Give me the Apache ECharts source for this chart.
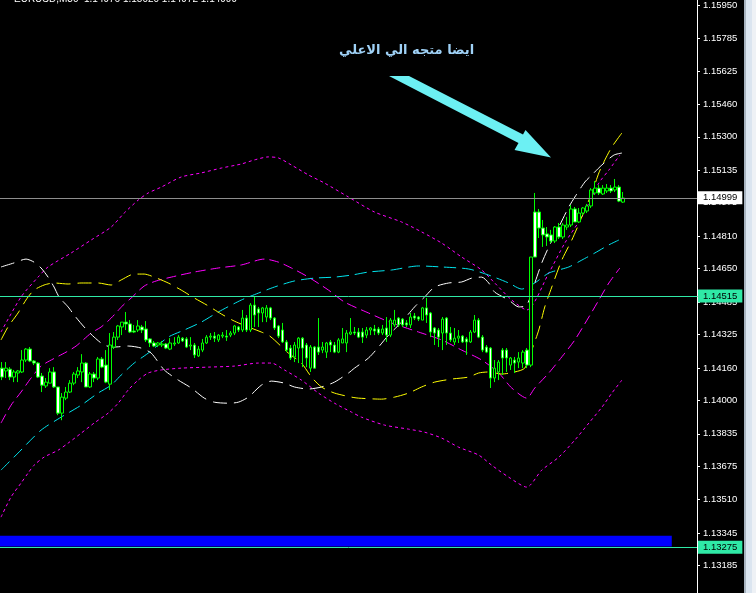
<!DOCTYPE html>
<html><head><meta charset="utf-8">
<script src="https://cdn.jsdelivr.net/npm/echarts@6/dist/echarts.min.js"></script>
<style>html,body{margin:0;padding:0;background:#000;overflow:hidden}#c{width:756px;height:593px}</style>
</head><body><div id="c"></div>
<script>
// ---------- data ----------
const symbolTitle = 'EURUSD,M30  1.14976 1.15020 1.14972 1.14999';
const noteText = 'ايضا متجه الي الاعلي';
const tickLabels = ['1.15950','1.15785','1.15625','1.15460','1.15300','1.15135','1.14975','1.14810','1.14650',
  '1.14485','1.14325','1.14160','1.14000','1.13835','1.13675','1.13510','1.13345','1.13185'];
const slotCount = 174; // bar slots incl. right shift space
const priceMin = 1.130497, priceMax = 1.15975;

const open = [
1.14159,1.14145,1.14154,1.14115,1.14135,1.14140,1.14199,1.14253,1.14194,1.14184,
1.14120,1.14071,1.14085,1.14140,1.14066,1.13937,1.14011,1.14041,1.14085,1.14125,
1.14140,1.14184,1.14066,1.14130,1.14110,1.14204,1.14174,1.14080,1.14263,1.14312,
1.14362,1.14386,1.14377,1.14342,1.14347,1.14362,1.14352,1.14303,1.14283,1.14273,
1.14273,1.14278,1.14253,1.14278,1.14283,1.14307,1.14303,1.14268,1.14273,1.14219,
1.14248,1.14283,1.14312,1.14317,1.14298,1.14317,1.14317,1.14322,1.14332,1.14362,
1.14347,1.14406,1.14347,1.14470,1.14451,1.14431,1.14411,1.14456,1.14406,1.14367,
1.14347,1.14288,1.14258,1.14214,1.14258,1.14307,1.14273,1.14159,1.14263,1.14263,
1.14248,1.14238,1.14288,1.14273,1.14238,1.14283,1.14283,1.14327,1.14337,1.14337,
1.14337,1.14322,1.14347,1.14352,1.14352,1.14332,1.14357,1.14322,1.14372,1.14406,
1.14401,1.14382,1.14372,1.14416,1.14411,1.14396,1.14456,1.14431,1.14357,1.14347,
1.14332,1.14406,1.14332,1.14288,1.14307,1.14317,1.14303,1.14288,1.14337,1.14396,
1.14312,1.14263,1.14258,1.14110,1.14140,1.14248,1.14248,1.14174,1.14199,1.14189,
1.14184,1.14248,1.14174,1.14929,1.14929,1.14850,1.14821,1.14816,1.14786,1.14855,
1.14806,1.14855,1.14865,1.14944,1.14880,1.14924,1.14934,1.14959,1.15023,1.15047,
1.15018,1.15033,1.15047,1.15038,1.15052,1.14978];
const close = [
1.14115,1.14159,1.14115,1.14140,1.14145,1.14199,1.14253,1.14194,1.14184,1.14115,
1.14075,1.14090,1.14140,1.14066,1.13937,1.14016,1.14041,1.14085,1.14130,1.14145,
1.14184,1.14066,1.14130,1.14110,1.14204,1.14164,1.14090,1.14273,1.14312,1.14367,
1.14386,1.14377,1.14337,1.14337,1.14367,1.14347,1.14298,1.14283,1.14268,1.14283,
1.14278,1.14258,1.14283,1.14283,1.14312,1.14293,1.14263,1.14273,1.14224,1.14253,
1.14283,1.14312,1.14317,1.14307,1.14322,1.14322,1.14312,1.14332,1.14367,1.14347,
1.14406,1.14347,1.14470,1.14421,1.14431,1.14456,1.14456,1.14406,1.14357,1.14317,
1.14288,1.14248,1.14209,1.14273,1.14307,1.14258,1.14209,1.14263,1.14159,1.14238,
1.14263,1.14283,1.14273,1.14238,1.14298,1.14303,1.14332,1.14337,1.14332,1.14312,
1.14312,1.14347,1.14357,1.14342,1.14332,1.14352,1.14322,1.14396,1.14396,1.14372,
1.14372,1.14372,1.14411,1.14406,1.14401,1.14456,1.14421,1.14337,1.14332,1.14312,
1.14401,1.14332,1.14298,1.14307,1.14317,1.14288,1.14288,1.14337,1.14396,1.14312,
1.14248,1.14238,1.14110,1.14159,1.14189,1.14209,1.14209,1.14209,1.14184,1.14209,
1.14238,1.14174,1.14707,1.14707,1.14850,1.14816,1.14806,1.14786,1.14855,1.14806,
1.14865,1.14865,1.14944,1.14880,1.14924,1.14949,1.14959,1.15038,1.15047,1.15023,
1.15047,1.15047,1.15033,1.15052,1.14983,1.14998];
const low = [
1.14100,1.14110,1.14100,1.14090,1.14090,1.14135,1.14189,1.14189,1.14174,1.14110,
1.14041,1.14061,1.14085,1.14061,1.13927,1.13902,1.14001,1.14036,1.14075,1.14110,
1.14090,1.14066,1.14061,1.14090,1.14100,1.14159,1.14085,1.14051,1.14253,1.14298,
1.14322,1.14347,1.14332,1.14332,1.14337,1.14332,1.14288,1.14263,1.14263,1.14263,
1.14263,1.14253,1.14248,1.14268,1.14278,1.14288,1.14258,1.14248,1.14209,1.14214,
1.14238,1.14278,1.14298,1.14288,1.14288,1.14307,1.14293,1.14312,1.14322,1.14337,
1.14337,1.14337,1.14337,1.14362,1.14362,1.14386,1.14386,1.14396,1.14347,1.14307,
1.14283,1.14238,1.14199,1.14189,1.14184,1.14164,1.14164,1.14140,1.14159,1.14224,
1.14233,1.14209,1.14238,1.14233,1.14233,1.14283,1.14238,1.14322,1.14322,1.14307,
1.14283,1.14307,1.14322,1.14322,1.14322,1.14322,1.14288,1.14312,1.14362,1.14362,
1.14362,1.14362,1.14357,1.14396,1.14391,1.14396,1.14382,1.14312,1.14273,1.14263,
1.14248,1.14273,1.14288,1.14273,1.14283,1.14283,1.14224,1.14283,1.14332,1.14307,
1.14238,1.14233,1.14061,1.14090,1.14100,1.14125,1.14140,1.14150,1.14135,1.14159,
1.14159,1.14159,1.14164,1.14707,1.14801,1.14757,1.14762,1.14776,1.14776,1.14796,
1.14796,1.14841,1.14855,1.14880,1.14875,1.14914,1.14924,1.14949,1.15013,1.15013,
1.15013,1.15023,1.15023,1.15028,1.14978,1.14974];
const high = [
1.14189,1.14189,1.14164,1.14150,1.14150,1.14248,1.14258,1.14263,1.14199,1.14189,
1.14135,1.14110,1.14159,1.14164,1.14066,1.14036,1.14066,1.14100,1.14140,1.14164,
1.14228,1.14189,1.14140,1.14140,1.14214,1.14214,1.14248,1.14332,1.14337,1.14372,
1.14386,1.14436,1.14396,1.14372,1.14396,1.14372,1.14391,1.14307,1.14293,1.14288,
1.14293,1.14283,1.14307,1.14312,1.14322,1.14312,1.14312,1.14312,1.14283,1.14268,
1.14303,1.14322,1.14332,1.14337,1.14327,1.14337,1.14347,1.14342,1.14372,1.14367,
1.14446,1.14421,1.14480,1.14515,1.14461,1.14461,1.14470,1.14461,1.14411,1.14372,
1.14382,1.14298,1.14273,1.14288,1.14312,1.14312,1.14283,1.14273,1.14268,1.14406,
1.14288,1.14288,1.14298,1.14288,1.14307,1.14357,1.14347,1.14406,1.14362,1.14357,
1.14357,1.14362,1.14362,1.14372,1.14362,1.14372,1.14411,1.14406,1.14446,1.14411,
1.14406,1.14396,1.14431,1.14431,1.14416,1.14461,1.14505,1.14436,1.14362,1.14357,
1.14411,1.14411,1.14362,1.14357,1.14347,1.14322,1.14312,1.14347,1.14421,1.14406,
1.14322,1.14273,1.14263,1.14199,1.14199,1.14258,1.14258,1.14214,1.14214,1.14238,
1.14248,1.14258,1.14707,1.15023,1.14944,1.14890,1.14855,1.14841,1.14860,1.14875,
1.14875,1.14905,1.14964,1.14954,1.14949,1.14954,1.14969,1.15047,1.15082,1.15062,
1.15062,1.15067,1.15062,1.15092,1.15062,1.15028];

// indicator lines: [bar index, price]
const bandUpper = [[-0.25,1.14337],[4.75,1.14510],[9,1.14608],[11.5,1.14658],[17.25,1.14727],[22.25,1.14791],
 [27.25,1.14855],[30.5,1.14924],[34,1.14988],[36.5,1.15023],[39.75,1.15052],[44.75,1.15102],[49.75,1.15122],
 [54.75,1.15146],[59.75,1.15166],[63,1.15186],[66.5,1.15201],[69,1.15196],[72.25,1.15161],[76.5,1.15112],
 [80.5,1.15072],[86.5,1.15003],[93,1.14929],[99.75,1.14880],[104.75,1.14831],[109.75,1.14776],[114.75,1.14707],
 [119.75,1.14643],[123,1.14579],[127.25,1.14495],[131,1.14446],[136.5,1.14628],[140.5,1.14776],[144.75,1.14905],
 [149,1.15072],[151.5,1.15136],[154.25,1.15210]];
const bandMiddle = [[-0.25,1.13888],[2.25,1.13976],[4.75,1.14041],[7.25,1.14110],[9.75,1.14169],[12.75,1.14204],
 [16,1.14238],[18.5,1.14268],[22.25,1.14332],[24.75,1.14362],[27.25,1.14406],[30.25,1.14470],[32.25,1.14505],
 [35.5,1.14564],[38.5,1.14589],[42.25,1.14608],[48,1.14633],[54,1.14653],[59.75,1.14668],[65.5,1.14697],
 [69,1.14682],[72.25,1.14653],[76.5,1.14608],[81.5,1.14544],[85.5,1.14485],[91.5,1.14431],[97.25,1.14382],
 [104,1.14337],[109.75,1.14298],[114.75,1.14248],[119.75,1.14199],[124,1.14135],[127.25,1.14061],[131,1.14011],
 [133,1.14061],[136.5,1.14135],[140.5,1.14233],[143,1.14298],[146.5,1.14411],[149,1.14495],[151.5,1.14579],
 [154.25,1.14653]];
const bandLower = [[-0.25,1.13424],[2.25,1.13523],[4.75,1.13592],[6.5,1.13641],[8,1.13680],[10.5,1.13720],
 [14,1.13754],[16.5,1.13789],[19.75,1.13838],[23,1.13888],[26.5,1.13937],[29,1.13986],[31.5,1.14051],[34,1.14100],
 [36.5,1.14135],[39.75,1.14150],[44.75,1.14159],[51.5,1.14164],[58,1.14169],[64,1.14184],[67.25,1.14184],
 [70.5,1.14150],[74.75,1.14100],[79,1.14036],[83,1.13986],[87.25,1.13942],[89.75,1.13917],[95.5,1.13878],
 [101.5,1.13858],[105.5,1.13843],[109.75,1.13814],[114,1.13769],[119,1.13730],[122.25,1.13680],[126.5,1.13621],
 [131,1.13572],[134.75,1.13656],[139,1.13720],[143,1.13804],[146.5,1.13888],[149.75,1.13966],[152.25,1.14036],
 [154.75,1.14100]];
const maCyan = [[-0.25,1.13656],[4,1.13740],[9.75,1.13853],[14.75,1.13917],[19.75,1.13976],[24,1.14036],
 [27.25,1.14075],[29.75,1.14125],[33,1.14184],[36.5,1.14233],[41.5,1.14312],[45.5,1.14347],[49.75,1.14386],
 [54,1.14436],[59.75,1.14495],[64,1.14529],[68,1.14559],[73,1.14589],[78,1.14603],[83,1.14608],[87.25,1.14618],
 [91.5,1.14633],[97.25,1.14643],[104,1.14663],[109.75,1.14658],[116.5,1.14648],[121.5,1.14618],[126.5,1.14579],
 [129.75,1.14549],[133,1.14579],[136.5,1.14628],[141.5,1.14658],[144.75,1.14692],[148,1.14727],[151.5,1.14767],
 [154,1.14791]];
const envWhite = [[-0.25,1.14658],[3,1.14678],[6,1.14697],[8,1.14682],[9.75,1.14653],[11.5,1.14608],[13,1.14559],
 [14.25,1.14510],[16.5,1.14461],[18,1.14421],[20.5,1.14362],[23,1.14312],[25.5,1.14273],[28,1.14263],
 [31.5,1.14268],[34.75,1.14258],[37.25,1.14233],[40.5,1.14150],[44,1.14100],[47.25,1.14061],[50.5,1.14011],
 [53,1.13991],[56.5,1.13986],[59,1.13991],[61.5,1.14016],[64.75,1.14075],[67.25,1.14095],[70.5,1.14085],
 [73,1.14066],[76.5,1.14056],[79.75,1.14066],[83,1.14090],[86.5,1.14135],[88,1.14159],[91.5,1.14209],
 [94,1.14263],[96.5,1.14322],[99.75,1.14386],[103,1.14461],[105.5,1.14510],[108,1.14559],[111.5,1.14579],
 [114.75,1.14584],[117.25,1.14603],[119.75,1.14608],[121.5,1.14579],[123,1.14534],[126.5,1.14495],
 [129,1.14461],[131,1.14470],[133,1.14579],[134.75,1.14678],[136.5,1.14757],[139,1.14855],[141.5,1.14954],
 [143,1.15003],[145.5,1.15077],[147.25,1.15112],[149.75,1.15161],[152.75,1.15210],[154.75,1.15220]];
const envYellow = [[-0.25,1.14298],[1.5,1.14362],[4,1.14431],[5.5,1.14480],[6.5,1.14510],[8,1.14544],
 [10.5,1.14569],[13,1.14579],[16.5,1.14574],[19.75,1.14579],[24,1.14579],[27.25,1.14569],[29.75,1.14594],
 [33,1.14623],[35.5,1.14623],[38,1.14608],[41.5,1.14579],[44.75,1.14544],[48,1.14505],[51.5,1.14466],
 [54.75,1.14426],[58,1.14391],[61.5,1.14362],[64.75,1.14337],[66.5,1.14322],[68,1.14298],[71.5,1.14233],
 [74.75,1.14184],[77.25,1.14115],[79.75,1.14066],[83,1.14036],[87.25,1.14016],[89,1.14011],[94.75,1.14006],
 [98,1.14016],[101.5,1.14036],[104.75,1.14066],[108,1.14090],[112.25,1.14105],[116.5,1.14115],[119,1.14135],
 [121.5,1.14140],[124.75,1.14130],[128,1.14140],[130.5,1.14159],[132.25,1.14248],[134,1.14347],[135.5,1.14461],
 [137.25,1.14559],[139.75,1.14692],[142.25,1.14791],[144.75,1.14905],[147.25,1.15023],[149,1.15122],
 [150.5,1.15186],[152.25,1.15250],[154.75,1.15319]];

const bidLevel = 1.14999;
const greenLevels = [1.14515, 1.13275];
const blueZone = [-0.5, 167.2, 1.13332, 1.13279]; // [fromBar, toBar, top, bottom]

// ---------- chart ----------
const GREEN = '#2fe9a6';
const slots = Array.from({length: slotCount}, (_, i) => String(i));
const candles = open.map((o, i) => [o, close[i], low[i], high[i]]);
const tickValues = tickLabels.map(Number);
const axisFont = 'Liberation Sans';

function lineSeries(name, data, color, dash, extra) {
  return Object.assign({
    name, type: 'line', xAxisIndex: 1, yAxisIndex: 0, data, showSymbol: false, symbol: 'none',
    smooth: 0.25, silent: true, z: 3,
    lineStyle: {color, width: 1, type: dash}
  }, extra || {});
}

const levelLabel = (bg) => ({
  show: true, position: 'end', distance: 1, formatter: p => Number(p.value).toFixed(5),
  backgroundColor: bg, color: '#000', padding: [2, 5, 1, 5], fontSize: 9.5, fontFamily: axisFont
});

const chart = echarts.init(document.getElementById('c'), null, {renderer: 'canvas'});
chart.setOption({
  backgroundColor: '#000',
  animation: false,
  grid: {left: -1, right: 59, top: 0, bottom: 0, containLabel: false},
  xAxis: [
    {type: 'category', data: slots, show: false, boundaryGap: true},
    {type: 'value', min: -0.5, max: slotCount - 0.5, show: false}
  ],
  yAxis: {
    type: 'value', position: 'right', min: priceMin, max: priceMax, scale: true,
    splitLine: {show: false},
    axisLine: {show: true, onZero: false, lineStyle: {color: '#ffffff', width: 1}},
    axisTick: {show: true, length: 3, customValues: tickValues, lineStyle: {color: '#ffffff'}},
    axisLabel: {show: true, customValues: tickValues, formatter: v => v.toFixed(5), color: '#ffffff',
      fontSize: 9.5, fontFamily: axisFont, margin: 6}
  },
  graphic: [
    {type: 'text', left: 14, top: -6, silent: true,
      style: {text: symbolTitle, fill: '#ffffff', font: '10px "Liberation Sans"'}},
    {type: 'text', left: 339, top: 44, silent: true,
      style: {text: noteText, fill: '#9fd1f6', font: 'bold 13px "DejaVu Sans"'}},
    {type: 'polygon', silent: true, z: 10,
      shape: {points: [[389,76],[409,76],[523,134.5],[525.5,130],[551,157.5],[514.5,150],[518.5,143]]},
      style: {fill: '#6cf0f3'}},
    {type: 'rect', silent: true, shape: {x: 744, y: 0, width: 2, height: 593}, style: {fill: '#a8b4c0'}},
    {type: 'rect', silent: true, shape: {x: 746, y: 0, width: 6, height: 593}, style: {fill: '#dbe5f0'}},
    {type: 'rect', silent: true, shape: {x: 752, y: 0, width: 4, height: 593}, style: {fill: '#eef1f5'}}
  ],
  series: [
    lineSeries('Band upper', bandUpper, '#ff00ff', [3, 3]),
    lineSeries('Band middle', bandMiddle, '#ff00ff', [10, 5]),
    lineSeries('Band lower', bandLower, '#ff00ff', [3, 3]),
    lineSeries('MA', maCyan, '#00e5ee', [12, 6]),
    lineSeries('Env white', envWhite, '#ffffff', [14, 7]),
    lineSeries('Env yellow', envYellow, '#ffff00', [14, 7], {
      markArea: {silent: true, itemStyle: {color: '#0000ff', opacity: 1},
        data: [[{coord: [blueZone[0], blueZone[2]]}, {coord: [blueZone[1], blueZone[3]]}]]}
    }),
    {
      name: 'EURUSD', type: 'candlestick', xAxisIndex: 0, yAxisIndex: 0, data: candles,
      barWidth: 3, silent: true, z: 4,
      itemStyle: {color: '#000000', color0: '#ffffff', borderColor: '#00ff00', borderColor0: '#00ff00',
        borderColorDoji: '#00ff00', borderWidth: 1},
      markLine: {
        silent: true, symbol: ['none', 'none'], animation: false, precision: 5, z: 6,
        data: [
          {yAxis: bidLevel, lineStyle: {color: '#8e8e8e', type: 'solid', width: 1}, label: levelLabel('#ffffff')},
          {yAxis: greenLevels[0], lineStyle: {color: GREEN, type: 'solid', width: 1}, label: levelLabel(GREEN)},
          {yAxis: greenLevels[1], lineStyle: {color: GREEN, type: 'solid', width: 1}, label: levelLabel(GREEN)}
        ]
      }
    }
  ]
});
</script>
</body></html>
